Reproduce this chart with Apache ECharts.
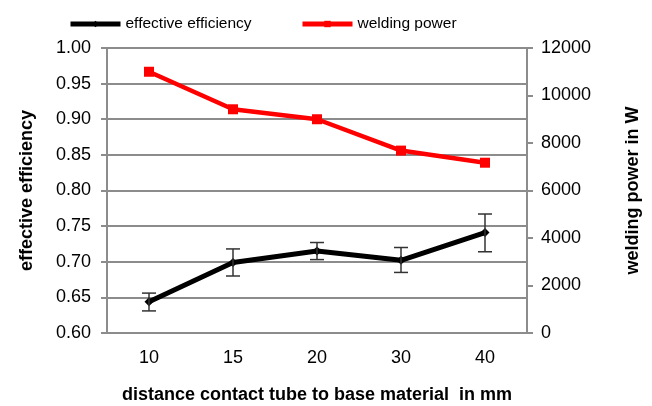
<!DOCTYPE html>
<html>
<head>
<meta charset="utf-8">
<script src="https://cdn.jsdelivr.net/npm/echarts@6/dist/echarts.min.js"></script>
<style>
  html, body { margin: 0; padding: 0; background: #fff; }
  #chart { width: 652px; height: 406px; }
</style>
</head>
<body>
<div id="chart"></div>
<script>
// Distance from contact tube to base material (mm)
var categories = ['10', '15', '20', '30', '40'];
// Effective efficiency (mean) with lower / upper error bounds
var efficiency = [0.644, 0.699, 0.715, 0.702, 0.741];
var effLow = [0.631, 0.680, 0.703, 0.685, 0.714];
var effHigh = [0.656, 0.718, 0.727, 0.720, 0.767];
// Welding power in W
var power = [11000, 9420, 9000, 7680, 7170];

var FONT = 'Liberation Sans, Arial, sans-serif';
var GRID_GRAY = '#8c8c8c';

var errorData = categories.map(function (c, i) { return [i, effLow[i], effHigh[i]]; });

var chart = echarts.init(document.getElementById('chart'), null, { renderer: 'canvas' });
chart.setOption({
  animation: false,
  backgroundColor: '#fff',
  textStyle: { fontFamily: FONT },
  grid: { left: 107, right: 125, top: 48, bottom: 73, containLabel: false, outerBoundsMode: 'none' },
  legend: [
    {
      data: ['effective efficiency'],
      left: 63, top: 11,
      itemWidth: 50, itemHeight: 8, itemGap: 5,
      lineStyle: { width: 5 },
      textStyle: { fontSize: 15.5, color: '#000', fontFamily: FONT }
    },
    {
      data: ['welding power'],
      left: 295, top: 11,
      itemWidth: 50, itemHeight: 8, itemGap: 5,
      lineStyle: { width: 5 },
      textStyle: { fontSize: 15.5, color: '#000', fontFamily: FONT }
    }
  ],
  xAxis: {
    type: 'category',
    data: categories,
    boundaryGap: true,
    axisLine: { lineStyle: { color: GRID_GRAY, width: 2 } },
    axisTick: { show: false },
    axisLabel: { fontSize: 18, color: '#000', margin: 16, fontFamily: FONT },
    name: 'distance contact tube to base material  in mm',
    nameLocation: 'middle',
    nameGap: 53,
    nameTextStyle: { fontSize: 18, fontWeight: 'bold', color: '#000', fontFamily: FONT }
  },
  yAxis: [
    {
      type: 'value',
      min: 0.6, max: 1.0, interval: 0.05,
      position: 'left',
      axisLine: { show: true, lineStyle: { color: GRID_GRAY, width: 2 } },
      axisTick: { show: true, length: 6, lineStyle: { color: GRID_GRAY, width: 2 } },
      splitLine: { show: true, lineStyle: { color: GRID_GRAY, width: 2 } },
      axisLabel: {
        fontSize: 18, color: '#000', margin: 16, fontFamily: FONT,
        formatter: function (v) { return v.toFixed(2); }
      },
      name: 'effective efficiency',
      nameLocation: 'middle',
      nameGap: 71,
      nameRotate: 90,
      nameTextStyle: { fontSize: 18, fontWeight: 'bold', color: '#000', fontFamily: FONT }
    },
    {
      type: 'value',
      min: 0, max: 12000, interval: 2000,
      position: 'right',
      axisLine: { show: true, lineStyle: { color: GRID_GRAY, width: 2 } },
      axisTick: { show: true, length: 6, lineStyle: { color: GRID_GRAY, width: 2 } },
      splitLine: { show: false },
      axisLabel: {
        fontSize: 18, color: '#000', margin: 14, fontFamily: FONT,
        formatter: function (v) { return String(v); }
      },
      name: 'welding power in W',
      nameLocation: 'middle',
      nameGap: 97,
      nameRotate: 90,
      nameTextStyle: { fontSize: 18, fontWeight: 'bold', color: '#000', fontFamily: FONT }
    }
  ],
  series: [
    {
      name: 'effective efficiency',
      type: 'line',
      yAxisIndex: 0,
      data: efficiency,
      symbol: 'diamond',
      symbolSize: 9,
      lineStyle: { color: '#000', width: 5 },
      itemStyle: { color: '#000' },
      z: 3
    },
    {
      name: 'error',
      type: 'custom',
      yAxisIndex: 0,
      data: errorData,
      z: 4,
      renderItem: function (params, api) {
        var x = api.value(0);
        var lo = api.coord([x, api.value(1)]);
        var hi = api.coord([x, api.value(2)]);
        var hw = 7;
        var style = { stroke: '#333', lineWidth: 1.5, fill: null };
        return {
          type: 'group',
          children: [
            { type: 'line', shape: { x1: hi[0], y1: hi[1], x2: lo[0], y2: lo[1] }, style: style },
            { type: 'line', shape: { x1: hi[0] - hw, y1: hi[1], x2: hi[0] + hw, y2: hi[1] }, style: style },
            { type: 'line', shape: { x1: lo[0] - hw, y1: lo[1], x2: lo[0] + hw, y2: lo[1] }, style: style }
          ]
        };
      }
    },
    {
      name: 'welding power',
      type: 'line',
      yAxisIndex: 1,
      data: power,
      symbol: 'rect',
      symbolSize: 10,
      lineStyle: { color: '#ff0000', width: 4.5 },
      itemStyle: { color: '#ff0000' },
      z: 3
    }
  ]
});
</script>
</body>
</html>
